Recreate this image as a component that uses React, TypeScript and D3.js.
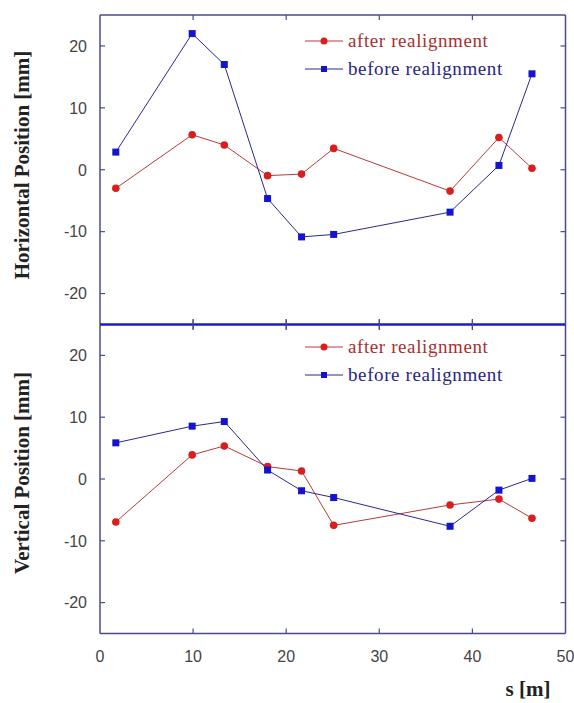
import React, { useRef, useEffect } from 'react';
import * as d3 from 'd3';

// positions along the beamline [m]
const sPos = [1.7, 9.9, 13.35, 18.0, 21.65, 25.1, 37.6, 42.85, 46.4];
const horizAfter = [-3.0, 5.65, 4.0, -0.95, -0.7, 3.45, -3.45, 5.2, 0.25];
const horizBefore = [2.85, 22.0, 17.0, -4.65, -10.85, -10.45, -6.85, 0.7, 15.5];
const vertAfter = [-6.95, 3.9, 5.35, 2.0, 1.3, -7.5, -4.2, -3.25, -6.35];
const vertBefore = [5.85, 8.55, 9.3, 1.45, -1.9, -3.0, -7.65, -1.8, 0.1];
const xTicks = [0, 10, 20, 30, 40, 50];
const yTicks = [-20, -10, 0, 10, 20];
const seriesNames = ['after realignment', 'before realignment'];

const AXIS = '#4a4a8e';
const RED_LINE = '#b83a3a';
const RED_MARK = '#d81e1e';
const BLUE_LINE = '#2a2a8a';
const BLUE_MARK = '#1414d0';

const App = () => {
  const ref = useRef<SVGSVGElement>(null);

  useEffect(() => {
    if (!ref.current) return;
    const svg = d3.select(ref.current);
    svg.selectAll('*').remove();

    const left = 100, right = 565.5;
    const x = d3.scaleLinear().domain([0, 50]).range([left, right]);

    svg.append('rect').attr('width', 574).attr('height', 703).attr('fill', '#fff');

    const panels = [
      { top: 15, bottom: 324.5, after: horizAfter, before: horizBefore, title: 'Horizontal Position [mm]', titleY: 165, legendY: 41 },
      { top: 324.5, bottom: 633.5, after: vertAfter, before: vertBefore, title: 'Vertical Position [mm]', titleY: 473, legendY: 347 },
    ];

    panels.forEach((p, pi) => {
      const y = d3.scaleLinear().domain([-25, 25]).range([p.bottom, p.top]);
      const g = svg.append('g');

      // frame
      g.append('line').attr('x1', left).attr('x2', left).attr('y1', p.top).attr('y2', p.bottom)
        .attr('stroke', AXIS).attr('stroke-width', 1.5);
      g.append('line').attr('x1', right).attr('x2', right).attr('y1', p.top).attr('y2', p.bottom)
        .attr('stroke', AXIS).attr('stroke-width', 1.5);
      if (pi === 0) {
        g.append('line').attr('x1', left).attr('x2', right).attr('y1', p.top).attr('y2', p.top)
          .attr('stroke', AXIS).attr('stroke-width', 1.5);
      } else {
        g.append('line').attr('x1', left).attr('x2', right).attr('y1', p.bottom).attr('y2', p.bottom)
          .attr('stroke', AXIS).attr('stroke-width', 1.5);
      }

      // ticks (inward)
      yTicks.forEach(t => {
        g.append('line').attr('x1', left).attr('x2', left + 5).attr('y1', y(t)).attr('y2', y(t))
          .attr('stroke', AXIS).attr('stroke-width', 1.2);
        g.append('line').attr('x1', right - 5).attr('x2', right).attr('y1', y(t)).attr('y2', y(t))
          .attr('stroke', AXIS).attr('stroke-width', 1.2);
        g.append('text').attr('x', 87).attr('y', y(t)).attr('dy', '0.36em')
          .attr('text-anchor', 'end').attr('font-family', '"Liberation Sans", Arial, sans-serif')
          .attr('font-size', 16).attr('fill', '#444').text(t);
      });
      xTicks.slice(1, -1).forEach(t => {
        g.append('line').attr('x1', x(t)).attr('x2', x(t)).attr('y1', p.top).attr('y2', p.top + 5)
          .attr('stroke', AXIS).attr('stroke-width', 1.2);
        g.append('line').attr('x1', x(t)).attr('x2', x(t)).attr('y1', p.bottom - 5).attr('y2', p.bottom)
          .attr('stroke', AXIS).attr('stroke-width', 1.2);
      });

      // y title
      g.append('text')
        .attr('transform', `translate(29,${p.titleY}) rotate(-90)`)
        .attr('text-anchor', 'middle')
        .attr('font-family', '"Liberation Serif", "Times New Roman", serif')
        .attr('font-weight', 'bold').attr('font-size', 21).attr('fill', '#222')
        .text(p.title);

      const line = d3.line<number>().x((_, i) => x(sPos[i])).y(d => y(d));

      g.append('path').datum(p.after).attr('d', line).attr('fill', 'none')
        .attr('stroke', RED_LINE).attr('stroke-width', 1);
      g.append('path').datum(p.before).attr('d', line).attr('fill', 'none')
        .attr('stroke', BLUE_LINE).attr('stroke-width', 1);

      g.selectAll('circle.after').data(p.after).enter().append('circle')
        .attr('cx', (_, i) => x(sPos[i])).attr('cy', d => y(d)).attr('r', 3.8)
        .attr('fill', RED_MARK);
      g.selectAll('rect.before').data(p.before).enter().append('rect')
        .attr('x', (_, i) => x(sPos[i]) - 3.5).attr('y', d => y(d) - 3.5)
        .attr('width', 7).attr('height', 7).attr('fill', BLUE_MARK);

      // legend
      seriesNames.forEach((name, li) => {
        const ly = p.legendY + li * 28;
        const col = li === 0 ? RED_LINE : BLUE_LINE;
        g.append('line').attr('x1', 305).attr('x2', 343).attr('y1', ly).attr('y2', ly)
          .attr('stroke', col).attr('stroke-width', 1);
        if (li === 0) {
          g.append('circle').attr('cx', 324).attr('cy', ly).attr('r', 3.5).attr('fill', RED_MARK);
        } else {
          g.append('rect').attr('x', 321).attr('y', ly - 3).attr('width', 6).attr('height', 6)
            .attr('fill', BLUE_MARK);
        }
        g.append('text').attr('x', 348).attr('y', ly).attr('dy', '0.3em')
          .attr('font-family', '"Liberation Serif", "Times New Roman", serif')
          .attr('font-size', 19).attr('letter-spacing', 0.6)
          .attr('fill', li === 0 ? '#a83030' : '#262680')
          .text(name);
      });
    });

    // divider between the two panels
    svg.append('line').attr('x1', left).attr('x2', right).attr('y1', 324.5).attr('y2', 324.5)
      .attr('stroke', '#1a1ad0').attr('stroke-width', 2.5);
    xTicks.slice(1, -1).forEach(t => {
      svg.append('line').attr('x1', x(t)).attr('x2', x(t)).attr('y1', 319).attr('y2', 330)
        .attr('stroke', AXIS).attr('stroke-width', 1.2);
    });

    // x tick labels
    xTicks.forEach(t => {
      svg.append('text').attr('x', x(t)).attr('y', 662).attr('text-anchor', 'middle')
        .attr('font-family', '"Liberation Sans", Arial, sans-serif')
        .attr('font-size', 16).attr('fill', '#444').text(t);
    });

    svg.append('text').attr('x', 528).attr('y', 696).attr('text-anchor', 'middle')
      .attr('font-family', '"Liberation Serif", "Times New Roman", serif')
      .attr('font-weight', 'bold').attr('font-size', 21).attr('fill', '#222')
      .text('s [m]');
  }, []);

  return (
    <svg ref={ref} width={574} height={703}
      style={{ position: 'absolute', left: 0, top: 0 }} />
  );
};

export default App;
